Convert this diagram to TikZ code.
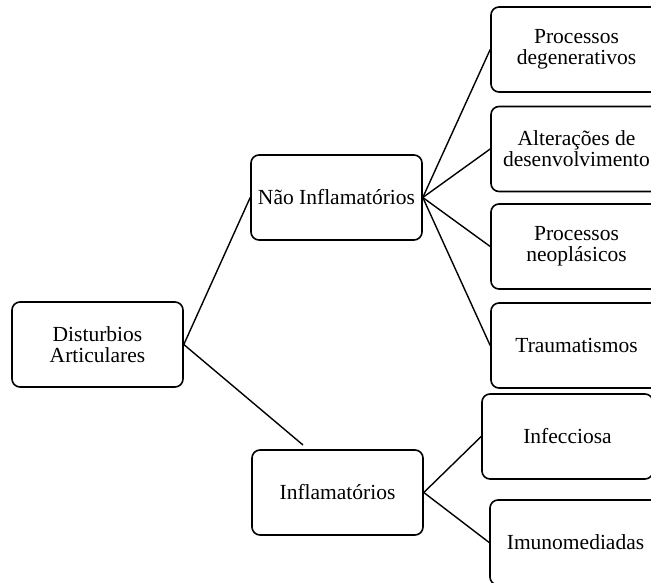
\documentclass[tikz,border=0pt]{standalone}
\usepackage{fontspec}
\setmainfont{Liberation Serif}
\begin{document}
\begin{tikzpicture}[x=1pt,y=-1pt,
  box/.style={draw, line width=1.6pt, rounded corners=8pt, rectangle,
    minimum width=171pt, minimum height=85pt, align=center, inner sep=1pt,
    font=\fontsize{21.5}{21}\selectfont},
  conn/.style={line width=1.4pt}]
\path[use as bounding box] (0,0) rectangle (651,582);
\clip (0,0) rectangle (651,582);
\node[box] (dist) at (97.5,344.5) {Disturbios\\Articulares};
\node[box] (nao) at (336.5,197.5) {Não Inflamatórios};
\node[box] (inf) at (337.5,492.5) {Inflamatórios};
\node[box] (pd) at (576.5,49.5) {Processos\\degenerativos};
\node[box] (alt) at (576.5,149) {Alterações de\\desenvolvimento};
\node[box] (pn) at (576.5,246.5) {Processos\\neoplásicos};
\node[box] (tr) at (576.5,345.5) {Traumatismos};
\node[box] (infe) at (567.5,436.5) {Infecciosa};
\node[box] (imu) at (575.5,542.5) {Imunomediadas};
\coordinate (stub) at (303,445);
\draw[conn] (dist.east) -- (nao.west);
\draw[conn] (dist.east) -- (stub);
\draw[conn] (nao.east) -- (pd.west);
\draw[conn] (nao.east) -- (alt.west);
\draw[conn] (nao.east) -- (pn.west);
\draw[conn] (nao.east) -- (tr.west);
\draw[conn] (inf.east) -- (infe.west);
\draw[conn] (inf.east) -- (imu.west);
\end{tikzpicture}
\end{document}
